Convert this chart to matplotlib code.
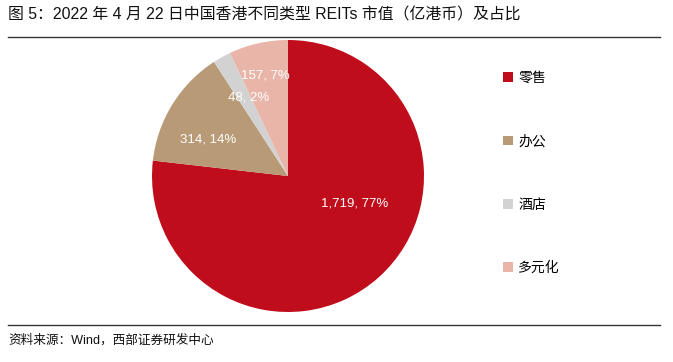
import matplotlib
matplotlib.use("Agg")
import matplotlib.pyplot as plt
from matplotlib.patches import Patch
from matplotlib.lines import Line2D

plt.rcParams['font.family'] = ['Liberation Sans', 'Noto Sans CJK SC', 'DejaVu Sans']

categories = ['零售', '办公', '酒店', '多元化']
values = [1719, 314, 48, 157]
percents = ['77%', '14%', '2%', '7%']
colors = ['#C00D1C', '#B99A76', '#D2D2D2', '#E9B5A9']
label_pos = [(0.49, -0.20), (-0.59, 0.27), (-0.29, 0.58), (-0.17, 0.74)]

title = '图 5：2022 年 4 月 22 日中国香港不同类型 REITs 市值（亿港币）及占比'
source = '资料来源：Wind，西部证券研发中心'

W, H = 673, 362
fig = plt.figure(figsize=(W / 100, H / 100), dpi=100)

cx, cy, r = 288, 176, 136
ax = fig.add_axes([(cx - r) / W, (H - cy - r) / H, 2 * r / W, 2 * r / H])
wedges, _ = ax.pie(values, colors=colors, startangle=90, counterclock=False,
                   radius=1, wedgeprops=dict(linewidth=0))
ax.set_xlim(-1, 1)
ax.set_ylim(-1, 1)
ax.set_aspect('auto')
ax.axis('off')

for v, p, (x, y) in zip(values, percents, label_pos):
    ax.text(x, y, f'{v:,}, {p}', ha='center', va='center', color='white', fontsize=9.5)

handles = [Patch(facecolor=c, edgecolor='none') for c in colors]
leg = fig.legend(handles, categories, loc='upper left', bbox_to_anchor=(496 / W, 1 - 64 / H),
                 frameon=False, fontsize=10, handlelength=0.7, handleheight=0.7,
                 handletextpad=0.4, labelspacing=3.55, borderpad=0)

fig.text(8 / W, 1 - 15 / H, title, ha='left', va='center', fontsize=11.4, color='#111111')
fig.add_artist(Line2D([8 / W, 660 / W], [1 - 37 / H, 1 - 37 / H], color='#333333', linewidth=1.0))
fig.add_artist(Line2D([8 / W, 660 / W], [1 - 325 / H, 1 - 325 / H], color='#333333', linewidth=1.0))
fig.text(8 / W, 1 - 340 / H, source, ha='left', va='center', fontsize=9.1, color='#111111')

fig.savefig('out.png', dpi=100)
